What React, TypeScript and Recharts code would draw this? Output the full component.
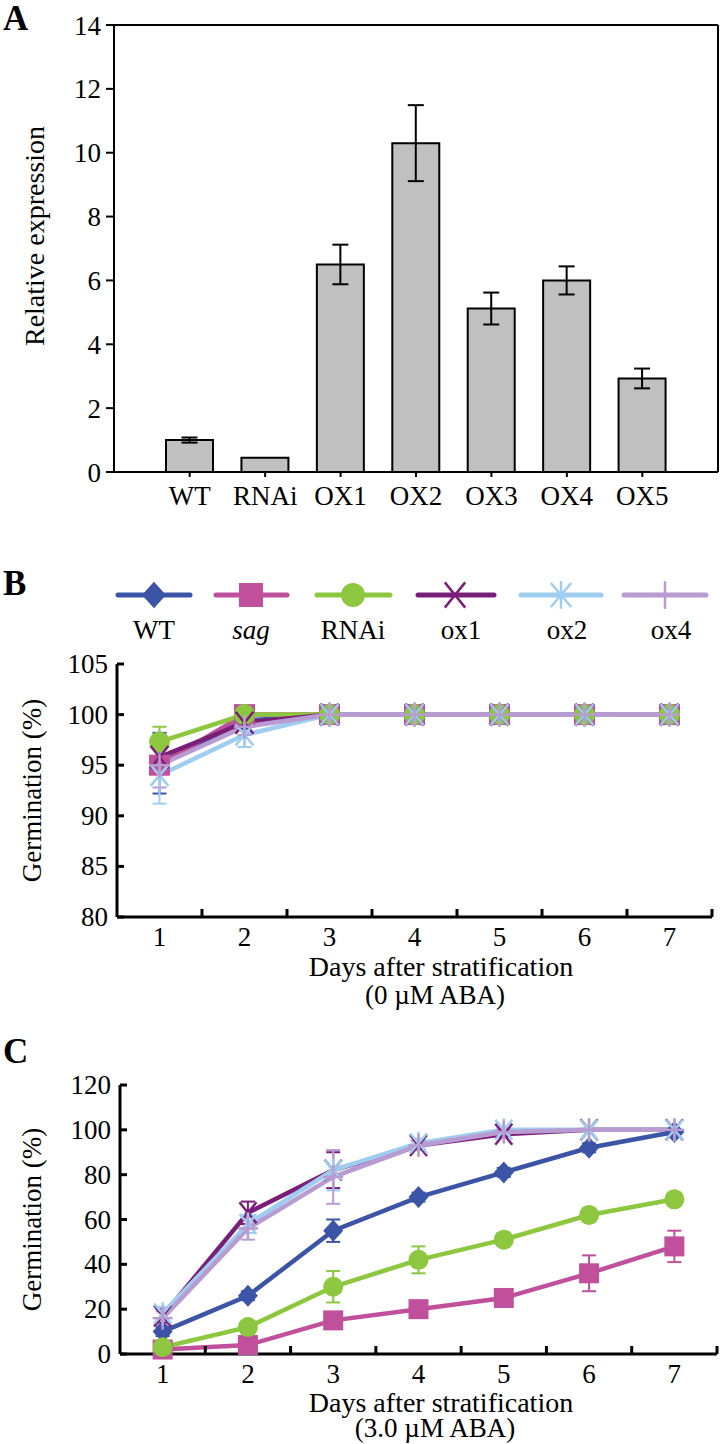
import React from 'react';
import { BarChart, Bar, LineChart, Line, XAxis, YAxis, ErrorBar, CartesianGrid } from 'recharts';

// Panel A: relative expression
const lineNames = ['WT', 'RNAi', 'OX1', 'OX2', 'OX3', 'OX4', 'OX5'];
const expression = [1.0, 0.45, 6.5, 10.3, 5.12, 6.0, 2.93];
const expressionErr = [0.08, 0, 0.62, 1.19, 0.5, 0.44, 0.31];
const expressionTicks = [0, 2, 4, 6, 8, 10, 12, 14];

// Panels B and C: germination
const days = [1, 2, 3, 4, 5, 6, 7];
const dayTicks = [1, 1.5, 2, 2.5, 3, 3.5, 4, 4.5, 5, 5.5, 6, 6.5, 7, 7.5];

// 0 µM ABA
const wt0 = [95.2, 99.4, 100, 100, 100, 100, 100];
const wt0Err = [3, 0.8, 0, 0, 0, 0, 0];
const sag0 = [95, 100, 100, 100, 100, 100, 100];
const sag0Err = [0.8, 0, 0, 0, 0, 0, 0];
const rnai0 = [97.3, 100, 100, 100, 100, 100, 100];
const rnai0Err = [1.5, 0, 0, 0, 0, 0, 0];
const ox10 = [95.8, 99.2, 100, 100, 100, 100, 100];
const ox10Err = [1, 0.5, 0, 0, 0, 0, 0];
const ox20 = [94, 98, 100, 100, 100, 100, 100];
const ox20Err = [2.8, 1.2, 0, 0, 0, 0, 0];
const ox40 = [95, 98.8, 100, 100, 100, 100, 100];
const ox40Err = [2.2, 0.8, 0, 0, 0, 0, 0];
const ticks0 = [80, 85, 90, 95, 100, 105];

// 3.0 µM ABA
const wt3 = [10, 26, 55, 70, 81, 92, 99];
const wt3Err = [2, 2, 5, 2, 2, 2, 1];
const sag3 = [2, 4, 15, 20, 25, 36, 48];
const sag3Err = [1, 1, 2, 2, 2, 8, 7];
const rnai3 = [3, 12, 30, 42, 51, 62, 69];
const rnai3Err = [1, 2, 7, 6, 2, 3, 3];
const ox13 = [17, 63, 82, 93, 98, 100, 100];
const ox13Err = [3, 5, 8, 2, 1, 0, 0];
const ox23 = [18, 58, 82, 94, 100, 100, 100];
const ox23Err = [3, 4, 9, 2, 1, 0, 0];
const ox43 = [16, 56, 79, 93, 99, 100, 100];
const ox43Err = [3, 5, 12, 2, 1, 0, 0];
const ticks3 = [0, 20, 40, 60, 80, 100, 120];

const FONT = '"Liberation Serif", "Times New Roman", serif';

type Kind = 'diamond' | 'square' | 'circle' | 'cross' | 'star' | 'plus';

const series: { key: string; label: string; color: string; kind: Kind; italic?: boolean }[] = [
  { key: 'WT', label: 'WT', color: '#3b54a6', kind: 'diamond' },
  { key: 'sag', label: 'sag', color: '#c0509b', kind: 'square', italic: true },
  { key: 'RNAi', label: 'RNAi', color: '#8dc63f', kind: 'circle' },
  { key: 'ox1', label: 'ox1', color: '#7a1f78', kind: 'cross' },
  { key: 'ox2', label: 'ox2', color: '#9fcdf0', kind: 'star' },
  { key: 'ox4', label: 'ox4', color: '#b89bd0', kind: 'plus' },
];

const dataA = lineNames.map((name, i) => ({ name, value: expression[i], err: expressionErr[i] }));

function buildDays(vals: number[][], errs: number[][]) {
  return days.map((day, i) => {
    const row: any = { day };
    series.forEach((s, j) => {
      row[s.key] = vals[j][i];
      row[s.key + 'Err'] = errs[j][i];
    });
    return row;
  });
}

const dataB = buildDays([wt0, sag0, rnai0, ox10, ox20, ox40], [wt0Err, sag0Err, rnai0Err, ox10Err, ox20Err, ox40Err]);
const dataC = buildDays([wt3, sag3, rnai3, ox13, ox23, ox43], [wt3Err, sag3Err, rnai3Err, ox13Err, ox23Err, ox43Err]);

function Marker({ kind, cx, cy, s, color }: { kind: Kind; cx: number; cy: number; s: number; color: string }) {
  const sw = 2.5;
  switch (kind) {
    case 'diamond':
      return <polygon points={`${cx},${cy - s * 1.1} ${cx + s},${cy} ${cx},${cy + s * 1.1} ${cx - s},${cy}`} fill={color} />;
    case 'square':
      return <rect x={cx - s} y={cy - s} width={s * 2} height={s * 2} fill={color} />;
    case 'circle':
      return <circle cx={cx} cy={cy} r={s} fill={color} />;
    case 'cross':
      return (
        <g stroke={color} strokeWidth={sw}>
          <line x1={cx - s * 0.85} y1={cy - s * 1.05} x2={cx + s * 0.85} y2={cy + s * 1.05} />
          <line x1={cx - s * 0.85} y1={cy + s * 1.05} x2={cx + s * 0.85} y2={cy - s * 1.05} />
        </g>
      );
    case 'star':
      return (
        <g stroke={color} strokeWidth={sw}>
          <line x1={cx - s * 0.85} y1={cy - s} x2={cx + s * 0.85} y2={cy + s} />
          <line x1={cx - s * 0.85} y1={cy + s} x2={cx + s * 0.85} y2={cy - s} />
          <line x1={cx} y1={cy - s * 1.15} x2={cx} y2={cy + s * 1.15} />
        </g>
      );
    default:
      return (
        <g stroke={color} strokeWidth={sw}>
          <line x1={cx} y1={cy - s * 1.15} x2={cx} y2={cy + s * 1.15} />
          <line x1={cx - s} y1={cy} x2={cx + s} y2={cy} />
        </g>
      );
  }
}

const DayTick = (props: any) => {
  const { x, y, payload } = props;
  const v = payload.value;
  if (Number.isInteger(v)) {
    return (
      <text x={x} y={y + 20} textAnchor="middle" dominantBaseline="central" fontSize={27} fontFamily={FONT} fill="#000">
        {v}
      </text>
    );
  }
  return <line x1={x} x2={x} y1={y} y2={y - 8} stroke="#000" strokeWidth={3} />;
};

const InwardYTick = (props: any) => {
  const { x, y, payload } = props;
  return (
    <g>
      <line x1={x} x2={x + 7} y1={y} y2={y} stroke="#000" strokeWidth={3} />
      <text x={x - 9} y={y} textAnchor="end" dominantBaseline="central" fontSize={27} fontFamily={FONT} fill="#000">
        {payload.value}
      </text>
    </g>
  );
};

function GerminationChart({ data, domain, ticks, yWidth, height, marginTop, marginRight, xHeight, sub, size, titleY, subY }: any) {
  const plotTop = marginTop;
  const plotBottom = height - xHeight;
  return (
    <LineChart width={720} height={height} data={data} margin={{ top: marginTop, right: marginRight, bottom: 0, left: 0 }}>
      <XAxis
        dataKey="day"
        type="number"
        domain={[0.5, 7.5]}
        ticks={dayTicks}
        interval={0}
        tickLine={false}
        tickSize={0}
        tickMargin={0}
        height={xHeight}
        axisLine={{ stroke: '#000', strokeWidth: 3 }}
        tick={<DayTick />}
        label={() => (
          <g>
            <text x={441} y={plotBottom + titleY} textAnchor="middle" dominantBaseline="central" fontSize={28} fontFamily={FONT} fill="#000">
              Days after stratification
            </text>
            <text x={435} y={plotBottom + subY} textAnchor="middle" dominantBaseline="central" fontSize={27} fontFamily={FONT} fill="#000">
              {sub}
            </text>
          </g>
        )}
      />
      <YAxis
        type="number"
        domain={domain}
        ticks={ticks}
        interval={0}
        width={yWidth}
        tickLine={false}
        tickSize={0}
        tickMargin={0}
        axisLine={{ stroke: '#000', strokeWidth: 3 }}
        tick={<InwardYTick />}
        label={() => (
          <text
            x={32}
            y={(plotTop + plotBottom) / 2}
            transform={`rotate(-90 32 ${(plotTop + plotBottom) / 2})`}
            textAnchor="middle"
            dominantBaseline="central"
            fontSize={27}
            fontFamily={FONT}
            fill="#000"
          >
            Germination (%)
          </text>
        )}
      />
      {series.map((s) => (
        <Line
          key={s.key}
          dataKey={s.key}
          type="linear"
          stroke={s.color}
          strokeWidth={4.5}
          isAnimationActive={false}
          dot={(p: any) =>
            p.cx == null ? <g key={`${s.key}-${p.index}`} /> : (
              <g key={`${s.key}-${p.index}`}>
                <Marker kind={s.kind} cx={p.cx} cy={p.cy} s={size} color={s.color} />
              </g>
            )
          }
          activeDot={false}
        >
          <ErrorBar dataKey={s.key + 'Err'} direction="y" stroke={s.color} strokeWidth={2} width={7} />
        </Line>
      ))}
    </LineChart>
  );
}

function LegendRow() {
  const items = [
    [118, 190, 154],
    [216, 287, 251],
    [317, 390, 353],
    [418, 494, 455],
    [521, 601, 561],
    [624, 706, 665],
  ];
  return (
    <svg width={720} height={84} style={{ position: 'absolute', left: 0, top: 570, zIndex: 2 }}>
      {series.map((s, i) => {
        const [x1, x2, cx] = items[i];
        return (
          <g key={s.key}>
            <line x1={x1} x2={x2} y1={25} y2={25} stroke={s.color} strokeWidth={5} strokeLinecap="round" />
            <Marker kind={s.kind} cx={cx} cy={25} s={12} color={s.color} />
            <text
              x={cx + (i >= 3 ? 6 : 0)}
              y={60}
              textAnchor="middle"
              dominantBaseline="central"
              fontSize={27}
              fontFamily={FONT}
              fontStyle={s.italic ? 'italic' : 'normal'}
              fill="#000"
            >
              {s.label}
            </text>
          </g>
        );
      })}
    </svg>
  );
}

const letterStyle = (top: number): React.CSSProperties => ({
  position: 'absolute',
  left: 3,
  top,
  fontFamily: FONT,
  fontWeight: 'bold',
  fontSize: 35,
  lineHeight: '36px',
});

export default function App() {
  return (
    <div style={{ position: 'absolute', left: 0, top: 0, width: 720, height: 1444, background: '#fff', overflow: 'hidden' }}>
      <div style={{ position: 'absolute', left: 0, top: 0 }}>
        <BarChart width={720} height={520} data={dataA} margin={{ top: 25, right: 2, bottom: 0, left: 0 }}>
          <CartesianGrid
            stroke="#000"
            strokeWidth={2}
            verticalCoordinatesGenerator={({ offset }: any) => [offset.left + offset.width]}
            horizontalCoordinatesGenerator={({ offset }: any) => [offset.top]}
          />
          <XAxis
            dataKey="name"
            height={48}
            padding={{ left: 38, right: 38 }}
            interval={0}
            tickSize={5}
            tickMargin={9}
            axisLine={{ stroke: '#000', strokeWidth: 2 }}
            tickLine={{ stroke: '#000', strokeWidth: 2 }}
            tick={{ fill: '#000', fontSize: 27, fontFamily: FONT }}
          />
          <YAxis
            domain={[0, 14]}
            ticks={expressionTicks}
            interval={0}
            width={114}
            tickSize={8}
            tickMargin={5}
            axisLine={{ stroke: '#000', strokeWidth: 2 }}
            tickLine={{ stroke: '#000', strokeWidth: 2 }}
            tick={{ fill: '#000', fontSize: 27, fontFamily: FONT }}
            label={() => (
              <text x={34} y={236} transform="rotate(-90 34 236)" textAnchor="middle" dominantBaseline="central" fontSize={28} fontFamily={FONT} fill="#000">
                Relative expression
              </text>
            )}
          />
          <Bar dataKey="value" fill="#c0c0c0" stroke="#000" strokeWidth={2} barSize={47} isAnimationActive={false}>
            <ErrorBar dataKey="err" direction="y" stroke="#000" strokeWidth={2} width={8} />
          </Bar>
        </BarChart>
      </div>
      <div style={letterStyle(1)}>A</div>

      <div style={letterStyle(566)}>B</div>
      <div style={{ position: 'absolute', left: 0, top: 640 }}>
        <GerminationChart
          data={dataB}
          domain={[80, 105]}
          ticks={ticks0}
          yWidth={117}
          height={370}
          marginTop={24}
          marginRight={8}
          xHeight={93}
          sub="(0 µM ABA)"
          size={10.5}
          titleY={49}
          subY={78}
        />
      </div>
      <LegendRow />

      <div style={letterStyle(1034)}>C</div>
      <div style={{ position: 'absolute', left: 0, top: 1060 }}>
        <GerminationChart
          data={dataC}
          domain={[0, 120]}
          ticks={ticks3}
          yWidth={120}
          height={384}
          marginTop={25}
          marginRight={3}
          xHeight={90}
          sub="(3.0 µM ABA)"
          size={10}
          titleY={48}
          subY={74}
        />
      </div>
    </div>
  );
}
